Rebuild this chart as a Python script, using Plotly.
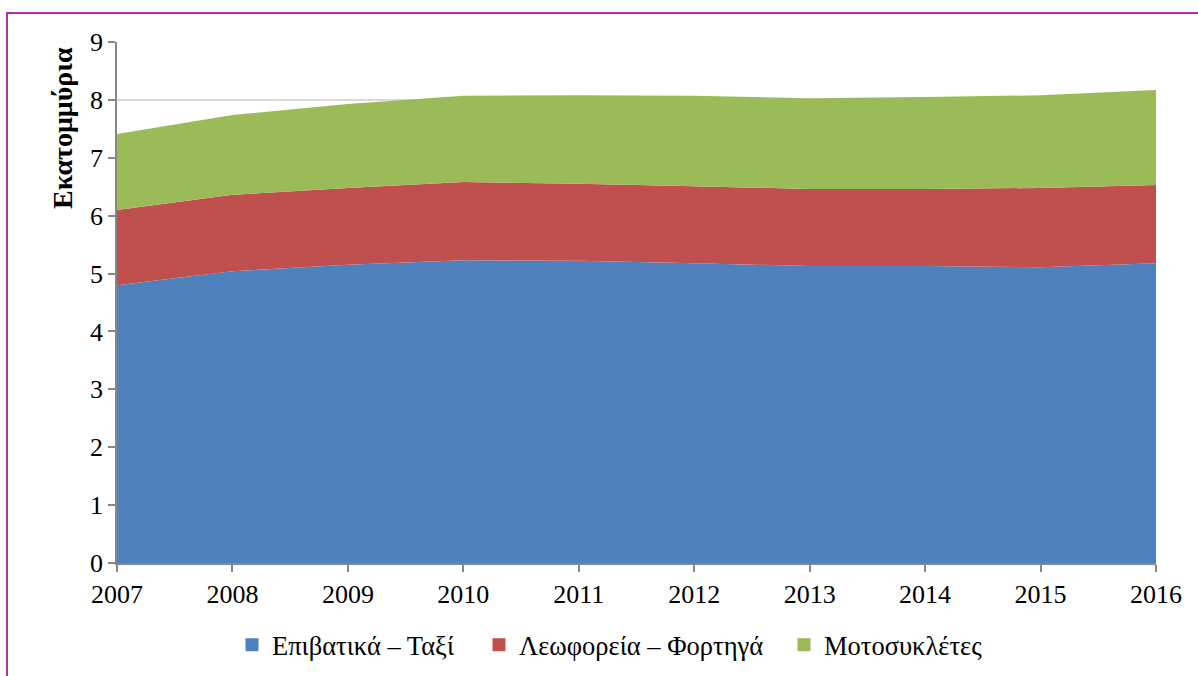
import plotly.graph_objects as go

years = [2007, 2008, 2009, 2010, 2011, 2012, 2013, 2014, 2015, 2016]
cars_taxi = [4.80, 5.04, 5.15, 5.23, 5.22, 5.18, 5.13, 5.13, 5.11, 5.18]
buses_trucks = [1.30, 1.32, 1.33, 1.35, 1.33, 1.33, 1.33, 1.33, 1.37, 1.35]
motorcycles = [1.31, 1.38, 1.45, 1.49, 1.53, 1.56, 1.57, 1.59, 1.60, 1.64]

names = ["Επιβατικά – Ταξί", "Λεωφορεία – Φορτηγά", "Μοτοσυκλέτες"]
colors = ["#4F81BD", "#C0504D", "#9BBB59"]
y_title = "Εκατομμύρια"

font = "Liberation Serif, Times New Roman, serif"

L, R, T, B = 117, 42, 42, 113
W, H = 1198, 676
pw, ph = W - L - R, H - T - B

fig = go.Figure()
for name, vals, col in zip(names, [cars_taxi, buses_trucks, motorcycles], colors):
    fig.add_trace(go.Scatter(
        x=years, y=vals, name=name, stackgroup="one", mode="none",
        fillcolor=col, line=dict(width=0), showlegend=False,
    ))

legend_ids = ["legend", "legend2", "legend3"]
legend_text_px = [269, 516, 821]
for name, col, lid in zip(names, colors, legend_ids):
    fig.add_trace(go.Scatter(
        x=[None], y=[None], name=name, mode="markers",
        marker=dict(symbol="square", size=13, color=col), showlegend=True, legend=lid,
    ))

leg_common = dict(orientation="h", yref="container", y=1 - 645 / H, yanchor="middle",
                  xref="container", xanchor="left",
                  font=dict(family=font, size=26.5), itemwidth=30,
                  bgcolor="rgba(0,0,0,0)")

layout_legends = {}
for lid, px in zip(legend_ids, legend_text_px):
    layout_legends[lid] = dict(leg_common, x=(px - 37) / W)

fig.update_layout(
    width=W, height=H,
    margin=dict(l=L, r=R, t=T, b=B),
    plot_bgcolor="white", paper_bgcolor="white",
    font=dict(family=font, size=26, color="black"),
    showlegend=True,
    xaxis=dict(range=[2007, 2016], tickmode="array", tickvals=years,
               ticktext=[str(y) for y in years], showgrid=False,
               showline=True, linecolor="#868686", linewidth=1.5,
               ticks="outside", ticklen=7, tickcolor="#868686", tickwidth=1.5,
               zeroline=False, tickfont=dict(family=font, size=26), automargin=False),
    yaxis=dict(range=[0, 9], dtick=1, showgrid=True, gridcolor="#D9D9D9", gridwidth=1.5,
               showline=True, linecolor="#868686", linewidth=1.5,
               ticks="outside", ticklen=7, tickcolor="#868686", tickwidth=1.5,
               zeroline=False, tickfont=dict(family=font, size=26), automargin=False),
    annotations=[dict(text="<b>" + y_title + "</b>", xref="paper", yref="paper",
                      x=(62 - L) / pw, y=(563 - 128) / ph, xanchor="center", yanchor="middle",
                      textangle=-90, showarrow=False, font=dict(family=font, size=28))],
    **layout_legends,
)

# outer purple border (only top and left visible in the image)
fig.add_shape(type="rect", xref="paper", yref="paper",
              x0=(7 - L) / pw, x1=(1215 - L) / pw,
              y0=(H - B - 700) / ph, y1=(H - B - 13) / ph,
              line=dict(color="#B030B0", width=2), fillcolor="rgba(0,0,0,0)", layer="above")

fig.write_html("out.html", config={"displayModeBar": False},
               post_script="document.body.style.margin='0';")
